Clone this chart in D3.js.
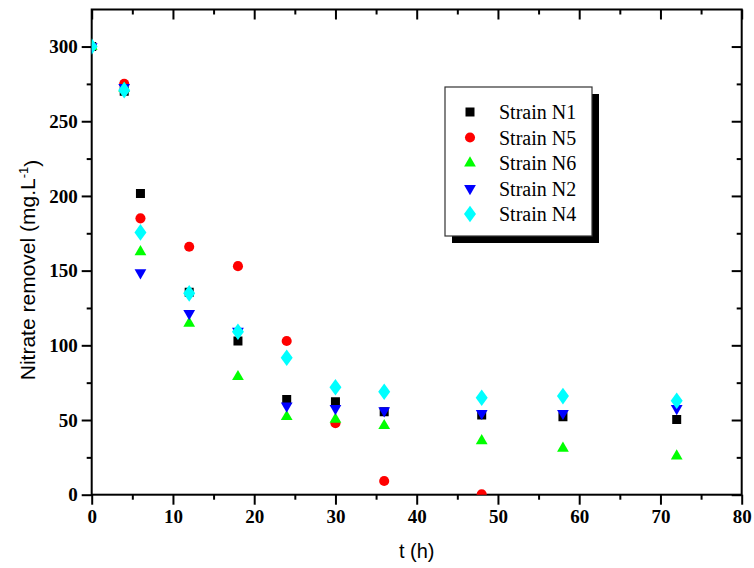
<!DOCTYPE html>
<html>
<head>
<meta charset="utf-8">
<script src="https://cdn.jsdelivr.net/npm/d3@7"></script>
<style>
  html, body { margin: 0; padding: 0; background: #fff; }
  svg { display: block; }
  .tick text { font-family: "Liberation Serif", "Times New Roman", serif !important; font-weight: bold; font-size: 19px; }
</style>
</head>
<body>
<svg id="chart" width="754" height="568"></svg>
<script>
// ---- data ----
const times = [0, 4, 6, 12, 18, 24, 30, 36, 48, 58, 72];
const timesN5 = [0, 4, 6, 12, 18, 24, 30, 36, 48];
const seriesNames = ["Strain N1", "Strain N5", "Strain N6", "Strain N2", "Strain N4"];
const valuesN1 = [300, 270, 201.7, 135.5, 102.9, 63.8, 62.3, 55.6, 53.3, 52.2, 50.4];
const valuesN5 = [300, 275, 185, 166, 153, 102.9, 47.8, 9.2, 0.3];
const valuesN6 = [300, 272, 162.6, 114.7, 79, 52.2, 50.4, 46.2, 36.1, 31, 25.9];
const valuesN2 = [300, 272.6, 148.6, 121.4, 109.5, 59.4, 57.8, 56.2, 54.5, 54.5, 57.8];
const valuesN4 = [300, 270.8, 175.6, 134.8, 109.1, 91.7, 71.9, 68.9, 64.9, 66, 62.9];
const xTicks = [0, 10, 20, 30, 40, 50, 60, 70, 80];
const yTicks = [0, 50, 100, 150, 200, 250, 300];
const xTitle = "t (h)";
const yTitle = "Nitrate removel (mg.L";

const colors = ["#000000", "#ff0000", "#00ff00", "#0000ff", "#00ffff"];
const symbols = [d3.symbolSquare, d3.symbolCircle, d3.symbolTriangle, "triDown", d3.symbolDiamond];
const sizes = [81, 80, 60, 60, 80];

const series = [
  {name: seriesNames[0], t: times, v: valuesN1},
  {name: seriesNames[1], t: timesN5, v: valuesN5},
  {name: seriesNames[2], t: times, v: valuesN6},
  {name: seriesNames[3], t: times, v: valuesN2},
  {name: seriesNames[4], t: times, v: valuesN4}
];

// ---- layout ----
const L = 91.7, R = 741.7, T = 9.5, B = 494.7;
const svg = d3.select("#chart");
const x = d3.scaleLinear().domain([0, 80]).range([L, R]);
const y = d3.scaleLinear().domain([0, 324.8]).range([B, T]);

const serif = "'Liberation Serif','Times New Roman',serif";
const sans = "'Liberation Sans',Arial,sans-serif";

function symPath(i) {
  if (symbols[i] === "triDown") {
    return d3.symbol().type(d3.symbolTriangle).size(sizes[i])();
  }
  return d3.symbol().type(symbols[i]).size(sizes[i])();
}
function symTransform(i, cx, cy) {
  if (symbols[i] === "triDown") return `translate(${cx},${cy}) rotate(180)`;
  if (symbols[i] === d3.symbolDiamond) return `translate(${cx},${cy}) scale(1.25,1)`;
  return `translate(${cx},${cy})`;
}

// clip
svg.append("defs").append("clipPath").attr("id", "plotclip")
  .append("rect").attr("x", L).attr("y", T).attr("width", R - L).attr("height", B - T);

// ---- axes ----
const xMinor = d3.range(0, 81, 5);
const yMinor = d3.range(0, 325, 25);

const gx = svg.append("g").attr("transform", `translate(0,${B})`)
  .call(d3.axisBottom(x).tickValues(xTicks).tickSize(10).tickPadding(5).tickFormat(d3.format("d")));
const gxm = svg.append("g").attr("transform", `translate(0,${B})`)
  .call(d3.axisBottom(x).tickValues(xMinor.filter(d => d % 10 !== 0)).tickSize(5).tickFormat(""));
const gxt = svg.append("g").attr("transform", `translate(0,${T})`)
  .call(d3.axisBottom(x).tickValues(xTicks).tickSize(10).tickFormat(""));
const gxtm = svg.append("g").attr("transform", `translate(0,${T})`)
  .call(d3.axisBottom(x).tickValues(xMinor.filter(d => d % 10 !== 0)).tickSize(5).tickFormat(""));

const gy = svg.append("g").attr("transform", `translate(${L},0)`)
  .call(d3.axisLeft(y).tickValues(yTicks).tickSize(10).tickPadding(4).tickFormat(d3.format("d")));
const gym = svg.append("g").attr("transform", `translate(${L},0)`)
  .call(d3.axisLeft(y).tickValues(yMinor.filter(d => d % 50 !== 0)).tickSize(5).tickFormat(""));
const gyr = svg.append("g").attr("transform", `translate(${R},0)`)
  .call(d3.axisLeft(y).tickValues(yTicks).tickSize(10).tickFormat(""));
const gyrm = svg.append("g").attr("transform", `translate(${R},0)`)
  .call(d3.axisLeft(y).tickValues(yMinor.filter(d => d % 50 !== 0)).tickSize(5).tickFormat(""));

[gx, gxm, gxt, gxtm, gy, gym, gyr, gyrm].forEach(g => {
  g.attr("font-family", serif).attr("font-size", 19).attr("font-weight", "bold");
  g.select(".domain").remove();
  g.selectAll(".tick line").attr("stroke", "#000").attr("stroke-width", 2);
  g.selectAll(".tick text").attr("fill", "#000");
});
gx.selectAll(".tick text").attr("dy", "0.71em");

// frame
svg.append("rect").attr("x", L).attr("y", T).attr("width", R - L).attr("height", B - T)
  .attr("fill", "none").attr("stroke", "#000").attr("stroke-width", 2);

// ---- points ----
const gp = svg.append("g").attr("clip-path", "url(#plotclip)");
series.forEach((s, i) => {
  gp.append("g").selectAll("path").data(s.t.map((t, k) => ({t, v: s.v[k]})))
    .join("path")
    .attr("d", symPath(i))
    .attr("transform", d => symTransform(i, x(d.t), y(d.v)))
    .attr("fill", colors[i]);
});

// ---- axis titles ----
svg.append("text").attr("x", (L + R) / 2).attr("y", 558).attr("text-anchor", "middle")
  .attr("font-family", sans).attr("font-size", 20).text(xTitle);

const yt = svg.append("text").attr("transform", `translate(35,270) rotate(-90)`)
  .attr("text-anchor", "middle").attr("font-family", sans).attr("font-size", 21);
yt.append("tspan").text(yTitle);
yt.append("tspan").attr("dy", "-0.55em").attr("font-size", 13).text("-1");
yt.append("tspan").attr("dy", "0.55em").text(")");

// ---- legend ----
const lgX = 445, lgY = 87, lgW = 147, lgH = 149;
svg.append("rect").attr("x", lgX + 7).attr("y", lgY + 7).attr("width", lgW).attr("height", lgH).attr("fill", "#000");
svg.append("rect").attr("x", lgX).attr("y", lgY).attr("width", lgW).attr("height", lgH)
  .attr("fill", "#fff").attr("stroke", "#333").attr("stroke-width", 1.2);
seriesNames.forEach((n, i) => {
  const cy = 112 + i * 25.5;
  svg.append("path").attr("d", symPath(i)).attr("transform", symTransform(i, 470, cy)).attr("fill", colors[i]);
  svg.append("text").attr("x", 499).attr("y", cy + 7)
    .attr("font-family", serif).attr("font-size", 20).attr("fill", "#000").text(n);
});
</script>
</body>
</html>
